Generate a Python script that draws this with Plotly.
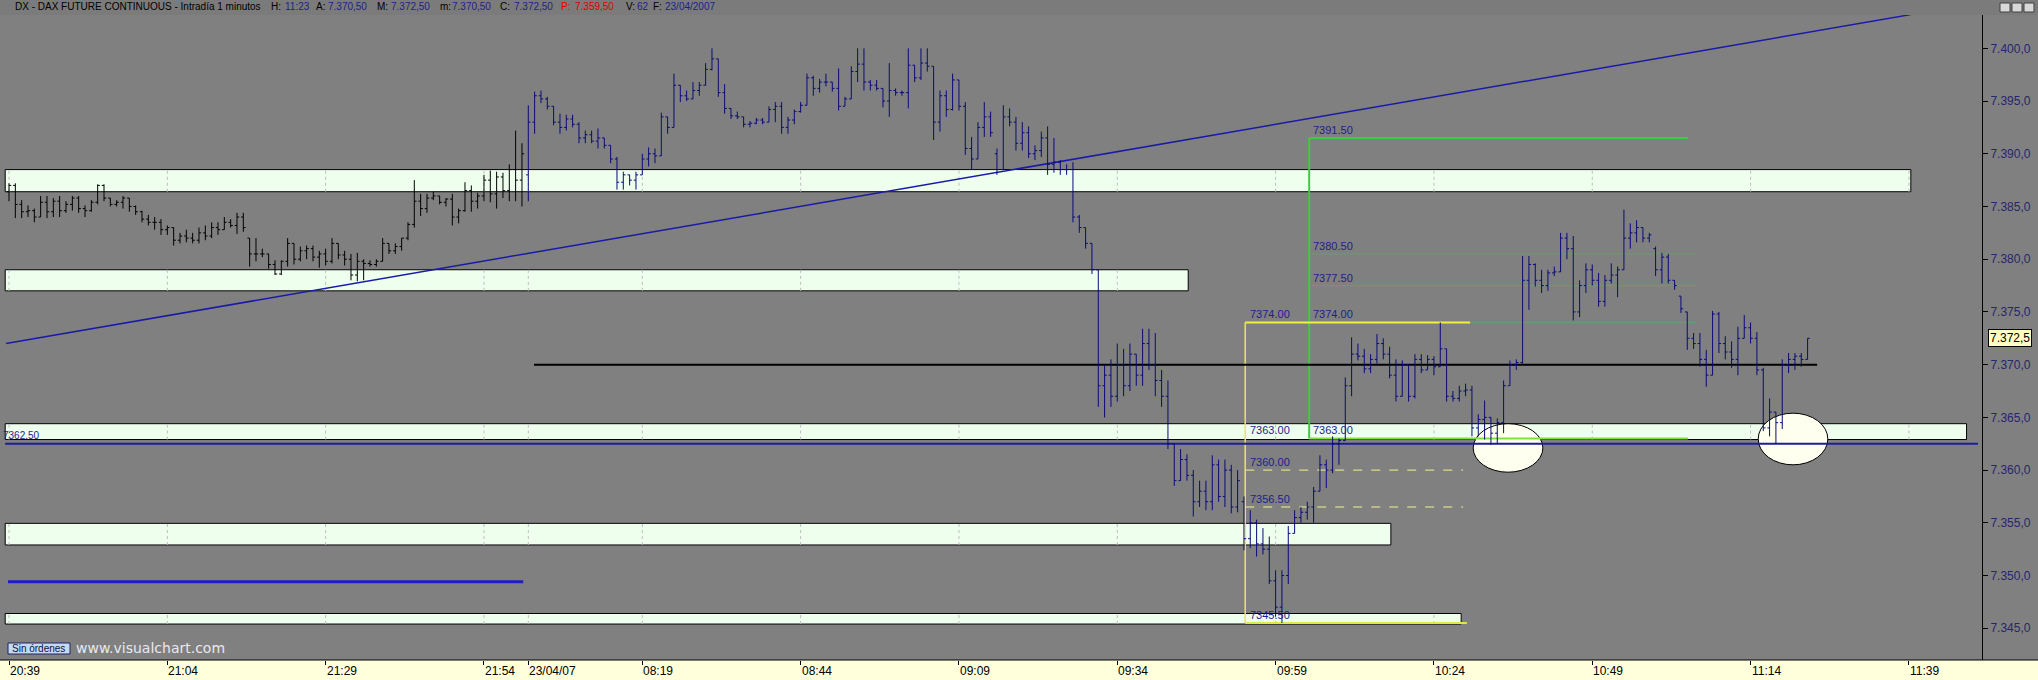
import plotly.graph_objects as go

# --- 1. Datos: barras de 1 minuto del DAX (índice 0 = 20:39, índice 82 = primera barra del 23/04) ---
# Sesión del 20/04 (20:39 - 22:00)
d1_open = [7386.4, 7387.0, 7385.2, 7384.5, 7384.6, 7384.0, 7385.4, 7384.5, 7385.5, 7384.6,
           7385.2, 7385.8, 7384.8, 7384.6, 7385.4, 7387.0, 7385.8, 7385.2, 7385.4, 7385.8,
           7385.0, 7384.5, 7383.8, 7383.5, 7383.5, 7382.8, 7383.0, 7381.8, 7382.2, 7382.0,
           7381.8, 7382.5, 7382.2, 7383.0, 7382.8, 7383.5, 7383.2, 7384.0, 7382.0, 7380.5,
           7380.5, 7380.5, 7379.5, 7378.6, 7379.8, 7381.5, 7380.0, 7380.8, 7381.0, 7380.2,
           7380.5, 7379.8, 7381.5, 7380.4, 7380.0, 7378.5, 7379.8, 7379.6, 7379.5, 7379.8,
           7381.5, 7380.8, 7381.2, 7382.0, 7383.3, 7385.5, 7384.8, 7385.8, 7386.0, 7385.4,
           7385.7, 7384.0, 7384.6, 7386.5, 7385.5, 7386.0, 7387.5, 7386.2, 7387.8, 7386.5,
           7388.5, 7387.5]
d1_high = [7387.2, 7387.2, 7385.6, 7385.1, 7384.8, 7386.0, 7386.0, 7385.8, 7386.0, 7385.5,
           7386.0, 7386.0, 7385.1, 7385.6, 7387.1, 7387.1, 7385.8, 7385.6, 7386.0, 7385.8,
           7385.1, 7384.6, 7384.2, 7384.0, 7383.8, 7383.2, 7383.0, 7382.5, 7382.8, 7382.5,
           7383.0, 7383.2, 7383.5, 7383.5, 7384.0, 7383.8, 7384.4, 7384.4, 7382.0, 7382.0,
           7381.0, 7380.5, 7379.9, 7379.9, 7382.0, 7381.5, 7381.2, 7381.3, 7381.3, 7380.8,
           7381.0, 7382.0, 7381.5, 7380.8, 7380.5, 7380.6, 7380.0, 7379.9, 7380.0, 7382.0,
           7381.5, 7381.5, 7382.0, 7383.5, 7387.5, 7386.2, 7386.2, 7386.4, 7386.0, 7385.8,
           7386.2, 7384.8, 7387.3, 7387.0, 7386.3, 7388.0, 7388.4, 7388.3, 7388.2, 7389.0,
           7392.2, 7391.0]
d1_low = [7385.5, 7383.9, 7383.9, 7384.0, 7383.5, 7384.0, 7383.9, 7384.0, 7384.0, 7384.4,
          7384.6, 7384.4, 7384.0, 7384.5, 7385.2, 7385.5, 7385.0, 7385.0, 7384.8, 7384.5,
          7384.2, 7383.5, 7383.2, 7382.8, 7382.3, 7382.3, 7381.3, 7381.5, 7381.6, 7381.5,
          7381.5, 7381.8, 7382.0, 7382.3, 7382.8, 7383.0, 7382.4, 7382.6, 7379.3, 7379.8,
          7380.2, 7379.1, 7378.5, 7378.5, 7379.3, 7379.5, 7379.8, 7380.0, 7379.8, 7379.2,
          7379.4, 7379.6, 7380.0, 7379.4, 7378.0, 7377.9, 7378.0, 7379.3, 7379.3, 7379.8,
          7380.5, 7380.5, 7380.8, 7381.8, 7383.0, 7384.1, 7384.4, 7385.6, 7385.2, 7385.0,
          7383.2, 7383.4, 7384.5, 7384.5, 7384.8, 7385.5, 7385.4, 7384.8, 7385.8, 7385.5,
          7385.5, 7385.0]
d1_close = [7387.0, 7385.2, 7384.5, 7384.6, 7384.0, 7385.4, 7384.5, 7385.5, 7384.6, 7385.2,
            7385.8, 7384.8, 7384.6, 7385.4, 7387.0, 7385.8, 7385.2, 7385.4, 7385.8, 7385.0,
            7384.5, 7383.8, 7383.5, 7383.5, 7382.8, 7383.0, 7381.8, 7382.2, 7382.0, 7381.8,
            7382.5, 7382.2, 7383.0, 7382.8, 7383.5, 7383.2, 7384.0, 7383.0, 7380.5, 7380.5,
            7380.5, 7379.5, 7378.6, 7379.8, 7381.5, 7380.0, 7380.8, 7381.0, 7380.2, 7380.5,
            7379.8, 7381.5, 7380.4, 7380.0, 7378.5, 7379.8, 7379.6, 7379.5, 7379.8, 7381.5,
            7380.8, 7381.2, 7382.0, 7383.3, 7385.5, 7384.8, 7385.8, 7386.0, 7385.4, 7385.7,
            7384.0, 7384.6, 7386.5, 7385.5, 7386.0, 7387.5, 7386.2, 7387.8, 7386.5, 7388.5,
            7387.5, 7390.0]

# Sesión del 23/04 (08:01 - 11:23)
d2_open = [7388.0, 7393.0, 7395.5, 7395.2, 7394.5, 7393.0, 7392.5, 7393.3, 7392.8, 7391.5,
           7391.8, 7391.2, 7391.5, 7390.8, 7389.5, 7387.3, 7388.0, 7387.5, 7388.0, 7389.5,
           7390.0, 7389.8, 7393.5, 7392.5, 7396.5, 7395.5, 7395.2, 7396.0, 7396.5, 7398.0,
           7399.0, 7395.8, 7394.3, 7393.6, 7393.5, 7392.8, 7392.9, 7393.2, 7393.0, 7394.2,
           7394.5, 7392.5, 7393.2, 7394.0, 7394.6, 7397.2, 7396.2, 7396.8, 7396.8, 7396.2,
           7394.5, 7395.2, 7397.8, 7398.5, 7396.8, 7396.5, 7396.2, 7395.0, 7396.0, 7395.8,
           7395.8, 7398.4, 7397.2, 7398.6, 7398.3, 7393.0, 7395.5, 7394.2, 7397.0, 7394.5,
           7390.5, 7389.5, 7392.5, 7393.5, 7390.0, 7388.5, 7393.5, 7393.0, 7391.0, 7392.0,
           7390.0, 7390.3, 7391.5, 7389.0, 7389.2, 7388.5, 7388.5, 7384.0, 7383.0, 7381.5,
           7379.0, 7368.0, 7369.0, 7367.0, 7370.0, 7368.0, 7371.0, 7369.0, 7372.0, 7370.0,
           7368.5, 7367.0, 7362.5, 7359.0, 7361.0, 7359.5, 7357.0, 7358.0, 7357.0, 7360.5,
           7357.5, 7360.0, 7356.5, 7357.0, 7353.5, 7355.0, 7353.0, 7352.5, 7349.5, 7347.0,
           7350.0, 7354.0, 7355.5, 7356.0, 7356.5, 7358.0, 7360.5, 7360.0, 7362.5, 7362.8,
           7368.0, 7371.0, 7370.8, 7369.6, 7370.5, 7372.0, 7371.0, 7369.0, 7367.0, 7370.0,
           7367.0, 7370.5, 7369.5, 7370.5, 7369.8, 7371.5, 7367.0, 7366.8, 7367.5, 7367.6,
           7364.0, 7364.8, 7365.0, 7363.5, 7364.5, 7368.0, 7370.0, 7370.2, 7378.0, 7379.5,
           7378.0, 7377.5, 7378.7, 7378.8, 7382.0, 7381.0, 7375.0, 7377.5, 7379.0, 7378.0,
           7376.0, 7378.0, 7378.5, 7379.0, 7382.0, 7382.5, 7383.0, 7382.0, 7381.0, 7379.0,
           7380.2, 7378.0, 7376.5, 7375.0, 7372.5, 7372.0, 7370.5, 7369.0, 7374.8, 7372.0,
           7371.2, 7370.5, 7372.5, 7373.5, 7372.5, 7369.5, 7364.0, 7365.5, 7364.5, 7370.0,
           7370.5, 7370.8, 7370.5]
d2_high = [7394.6, 7395.9, 7396.0, 7395.4, 7394.5, 7393.8, 7393.7, 7393.7, 7393.0, 7392.2,
           7392.2, 7392.4, 7391.5, 7390.8, 7389.7, 7388.3, 7388.0, 7388.3, 7390.0, 7390.6,
           7390.5, 7393.9, 7393.5, 7397.6, 7396.5, 7396.0, 7396.8, 7396.8, 7398.6, 7400.0,
           7399.0, 7396.6, 7394.3, 7394.0, 7393.5, 7393.1, 7393.4, 7393.4, 7394.5, 7394.9,
           7394.9, 7393.5, 7394.2, 7394.9, 7397.6, 7397.4, 7397.1, 7397.6, 7396.8, 7398.1,
           7395.4, 7398.3, 7400.0, 7400.0, 7397.0, 7397.0, 7396.2, 7398.6, 7396.2, 7396.0,
           7400.0, 7398.4, 7400.0, 7400.0, 7398.3, 7396.0, 7396.0, 7397.6, 7397.0, 7394.9,
           7391.6, 7393.0, 7394.9, 7394.0, 7390.5, 7394.6, 7394.3, 7393.5, 7393.0, 7392.6,
           7390.8, 7392.1, 7392.6, 7391.5, 7389.4, 7389.0, 7389.2, 7384.2, 7383.0, 7381.5,
           7379.0, 7370.0, 7370.5, 7372.0, 7371.5, 7372.0, 7371.0, 7373.4, 7373.4, 7373.0,
           7369.5, 7368.5, 7362.5, 7362.0, 7361.5, 7360.0, 7359.0, 7359.0, 7361.4, 7361.0,
           7361.0, 7360.5, 7360.0, 7357.5, 7356.2, 7355.3, 7354.5, 7353.7, 7350.5, 7350.5,
           7354.7, 7356.2, 7356.5, 7357.0, 7358.4, 7361.4, 7361.0, 7363.2, 7363.0, 7368.8,
           7372.6, 7372.0, 7371.5, 7371.0, 7372.9, 7372.5, 7371.7, 7370.5, 7370.4, 7370.0,
           7371.0, 7371.0, 7370.9, 7370.8, 7374.0, 7371.5, 7367.5, 7368.0, 7368.2, 7368.0,
           7365.3, 7366.6, 7365.0, 7364.9, 7368.5, 7370.4, 7370.5, 7380.3, 7380.3, 7379.6,
           7379.0, 7379.0, 7379.3, 7382.5, 7382.5, 7382.2, 7378.0, 7379.6, 7379.5, 7378.7,
           7378.5, 7379.6, 7379.3, 7384.7, 7383.4, 7383.7, 7383.0, 7382.5, 7381.2, 7380.6,
           7380.5, 7378.0, 7376.5, 7375.0, 7373.0, 7373.0, 7371.4, 7375.1, 7375.0, 7372.7,
           7372.2, 7373.6, 7374.7, 7374.0, 7373.1, 7369.7, 7366.8, 7365.5, 7370.5, 7371.1,
           7371.1, 7371.1, 7372.5]
d2_low = [7385.5, 7391.9, 7394.8, 7394.2, 7392.7, 7391.9, 7392.2, 7392.5, 7391.0, 7391.0,
          7391.0, 7390.5, 7390.5, 7389.1, 7386.6, 7386.6, 7387.0, 7386.6, 7388.0, 7388.8,
          7389.1, 7389.8, 7391.9, 7392.5, 7394.9, 7395.0, 7395.2, 7395.5, 7396.5, 7397.9,
          7395.4, 7393.8, 7393.3, 7393.3, 7392.5, 7392.5, 7392.8, 7392.8, 7393.0, 7393.0,
          7391.9, 7391.9, 7392.8, 7393.9, 7394.6, 7395.5, 7395.8, 7396.4, 7395.9, 7394.1,
          7394.5, 7395.2, 7396.8, 7396.0, 7396.0, 7396.0, 7394.4, 7393.5, 7395.5, 7395.5,
          7394.3, 7396.8, 7397.0, 7397.8, 7391.3, 7392.1, 7393.5, 7394.1, 7394.1, 7389.9,
          7388.5, 7389.5, 7391.6, 7391.6, 7388.0, 7388.5, 7392.6, 7390.3, 7390.3, 7389.6,
          7389.4, 7389.7, 7388.0, 7388.2, 7388.0, 7388.0, 7383.5, 7382.5, 7381.0, 7378.6,
          7366.0, 7365.0, 7366.0, 7366.5, 7367.0, 7367.5, 7368.0, 7368.0, 7369.5, 7367.0,
          7366.0, 7362.0, 7358.5, 7359.0, 7359.0, 7355.6, 7356.5, 7356.2, 7356.2, 7357.0,
          7356.5, 7355.9, 7356.0, 7352.4, 7352.6, 7351.8, 7352.0, 7349.2, 7346.1, 7345.5,
          7349.2, 7354.0, 7355.0, 7355.3, 7355.0, 7358.0, 7358.3, 7359.7, 7360.5, 7362.8,
          7367.0, 7370.4, 7369.2, 7369.2, 7370.1, 7370.5, 7368.7, 7366.5, 7367.0, 7366.5,
          7366.8, 7369.2, 7369.5, 7369.0, 7369.8, 7366.5, 7366.5, 7366.5, 7367.0, 7363.2,
          7363.2, 7362.9, 7362.4, 7362.5, 7363.5, 7368.0, 7369.5, 7370.1, 7375.2, 7377.4,
          7376.8, 7377.0, 7378.4, 7378.8, 7380.0, 7374.2, 7374.5, 7376.8, 7377.5, 7375.5,
          7375.5, 7377.7, 7376.4, 7379.0, 7381.0, 7381.6, 7381.6, 7381.6, 7378.4, 7377.7,
          7377.7, 7377.1, 7374.9, 7371.4, 7371.5, 7369.8, 7367.9, 7369.0, 7371.1, 7370.5,
          7369.7, 7369.0, 7372.5, 7372.0, 7369.0, 7363.7, 7363.2, 7362.5, 7363.9, 7369.2,
          7369.5, 7369.8, 7370.5]
d2_close = [7393.0, 7395.5, 7395.2, 7394.5, 7393.0, 7392.5, 7393.3, 7392.8, 7391.5, 7391.8,
            7391.2, 7391.5, 7390.8, 7389.5, 7387.3, 7388.0, 7387.5, 7388.0, 7389.5, 7390.0,
            7389.8, 7393.5, 7392.5, 7396.5, 7395.5, 7395.2, 7396.0, 7396.5, 7398.0, 7399.0,
            7395.8, 7394.3, 7393.6, 7393.5, 7392.8, 7392.9, 7393.2, 7393.0, 7394.2, 7394.5,
            7392.5, 7393.2, 7394.0, 7394.6, 7397.2, 7396.2, 7396.8, 7396.8, 7396.2, 7394.5,
            7395.2, 7397.8, 7398.5, 7396.8, 7396.5, 7396.2, 7395.0, 7396.0, 7395.8, 7395.8,
            7398.4, 7397.2, 7398.6, 7398.3, 7393.0, 7395.5, 7394.2, 7397.0, 7394.5, 7390.5,
            7389.5, 7392.5, 7393.5, 7392.0, 7388.5, 7393.5, 7393.0, 7391.0, 7392.0, 7390.0,
            7390.3, 7391.5, 7389.0, 7389.2, 7388.5, 7388.5, 7384.0, 7383.0, 7381.5, 7379.0,
            7368.0, 7369.0, 7367.0, 7370.0, 7368.0, 7371.0, 7369.0, 7372.0, 7370.0, 7368.5,
            7367.0, 7362.5, 7359.0, 7361.0, 7359.5, 7357.0, 7358.0, 7357.0, 7360.5, 7357.5,
            7360.0, 7356.5, 7359.0, 7353.5, 7355.0, 7353.0, 7352.5, 7349.5, 7347.0, 7350.0,
            7354.0, 7355.5, 7356.0, 7356.5, 7358.0, 7360.5, 7360.0, 7362.5, 7362.8, 7368.0,
            7371.0, 7370.8, 7369.6, 7370.5, 7372.0, 7371.0, 7369.0, 7367.0, 7370.0, 7367.0,
            7370.5, 7369.5, 7370.5, 7369.8, 7371.5, 7367.0, 7366.8, 7367.5, 7367.6, 7364.0,
            7364.8, 7365.0, 7363.5, 7364.5, 7368.0, 7370.0, 7370.2, 7378.0, 7379.5, 7378.0,
            7377.5, 7378.7, 7378.8, 7382.0, 7381.0, 7375.0, 7377.5, 7379.0, 7378.0, 7376.0,
            7378.0, 7378.5, 7379.0, 7382.0, 7382.5, 7383.0, 7382.0, 7382.3, 7379.0, 7380.2,
            7378.0, 7377.5, 7375.3, 7372.5, 7372.0, 7370.5, 7369.0, 7374.8, 7372.0, 7371.2,
            7370.5, 7372.5, 7373.5, 7372.5, 7369.5, 7364.0, 7365.5, 7364.5, 7370.0, 7370.5,
            7370.8, 7370.5, 7372.5]

# Etiquetas del eje de tiempo (posición = índice de barra)
tick_pos = [0, 25, 50, 75, 82, 100, 125, 150, 175, 200, 225, 250, 275, 300]
tick_text = ["20:39", "21:04", "21:29", "21:54", "23/04/07", "08:19", "08:44",
             "09:09", "09:34", "09:59", "10:24", "10:49", "11:14", "11:39"]

# Zonas de soporte / resistencia (precio bajo, precio alto, barra final)
zona_bajo = [7386.4, 7377.0, 7362.9, 7352.9, 7345.4]
zona_alto = [7388.5, 7379.0, 7364.4, 7354.95, 7346.4]
zona_fin = [300.3, 186.2, 309.1, 218.2, 229.3]

# Niveles de Fibonacci
fib_verde = [7391.5, 7380.5, 7377.5, 7374.0, 7363.0]
fib_amarillo = [7374.0, 7363.0, 7360.0, 7356.5, 7345.5]

# Otras líneas dibujadas
linea_azul = 7362.5
linea_azul_corta = 7349.4
linea_negra = 7370.0
tendencia = [(-0.47, 7372.0), (300.3, 7403.2)]
ultimo = 7372.5

# Cabecera: (posición px, texto, color)
cabecera = [
    (14, "DX - DAX FUTURE CONTINUOUS - Intradía 1 minutos", "#000000"),
    (270, "H:", "#000000"), (284, "11:23", "#1e1e8c"),
    (315, "A:", "#000000"), (327, "7.370,50", "#1e1e8c"),
    (376, "M:", "#000000"), (390, "7.372,50", "#1e1e8c"),
    (439, "m:", "#000000"), (451, "7.370,50", "#1e1e8c"),
    (499, "C:", "#000000"), (513, "7.372,50", "#1e1e8c"),
    (560, "P:", "#e00000"), (574, "7.359,50", "#e00000"),
    (625, "V:", "#000000"), (636, "62", "#1e1e8c"),
    (652, "F:", "#000000"), (664, "23/04/2007", "#1e1e8c"),
]

# --- 2. Figura ---
PLOT_W = 1982
PLOT_H = 645
fig = go.Figure()

fig.add_trace(go.Ohlc(
    x=list(range(len(d1_open))), open=d1_open, high=d1_high, low=d1_low, close=d1_close,
    increasing_line_color="#000000", decreasing_line_color="#000000",
    line_width=1, tickwidth=0.35, hoverinfo="skip", showlegend=False))
x2 = list(range(len(d1_open), len(d1_open) + len(d2_open)))
fig.add_trace(go.Ohlc(
    x=x2, open=d2_open, high=d2_high, low=d2_low, close=d2_close,
    increasing_line_color="#0a0a78", decreasing_line_color="#0a0a78",
    line_width=1, tickwidth=0.35, hoverinfo="skip", showlegend=False))

shapes = []
# zonas
for lo, hi, fin in zip(zona_bajo, zona_alto, zona_fin):
    shapes.append(dict(type="rect", x0=-0.6, x1=fin, y0=lo, y1=hi, layer="below",
                       fillcolor="#EEFFEE", line=dict(color="#000000", width=1)))
    for t in tick_pos:
        if -0.6 < t < fin:
            shapes.append(dict(type="line", x0=t, x1=t, y0=lo, y1=hi, layer="below",
                               line=dict(color="#BDBDBD", width=1, dash="dot")))
# elipses
shapes.append(dict(type="circle", x0=231.2, x1=242.2, y0=7359.8, y1=7364.4, layer="below",
                   fillcolor="#FFFFF0", line=dict(color="#000000", width=1)))
shapes.append(dict(type="circle", x0=276.2, x1=287.2, y0=7360.5, y1=7365.4, layer="below",
                   fillcolor="#FFFFF0", line=dict(color="#000000", width=1)))
# fibonacci verde
shapes.append(dict(type="line", x0=205.3, x1=205.3, y0=fib_verde[-1], y1=fib_verde[0], layer="below",
                   line=dict(color="#3ccc3c", width=2)))
shapes.append(dict(type="line", x0=205.3, x1=265.1, y0=fib_verde[0], y1=fib_verde[0], layer="below",
                   line=dict(color="#3ccc3c", width=2)))
for lv in fib_verde[1:4]:
    shapes.append(dict(type="line", x0=205.3, x1=266.5, y0=lv, y1=lv, layer="below",
                       line=dict(color="#6c9c6c", width=1)))
shapes.append(dict(type="line", x0=205.3, x1=265.1, y0=fib_verde[4], y1=fib_verde[4], layer="below",
                   line=dict(color="#7ee23c", width=2)))
# fibonacci amarillo
shapes.append(dict(type="line", x0=195.2, x1=195.2, y0=fib_amarillo[-1], y1=fib_amarillo[0], layer="below",
                   line=dict(color="#e8e850", width=1.5)))
shapes.append(dict(type="line", x0=195.2, x1=230.7, y0=fib_amarillo[0], y1=fib_amarillo[0], layer="below",
                   line=dict(color="#f0f040", width=2)))
for lv in fib_amarillo[2:4]:
    shapes.append(dict(type="line", x0=195.2, x1=229.6, y0=lv, y1=lv, layer="below",
                       line=dict(color="#f4f08c", width=1, dash="dash")))
shapes.append(dict(type="line", x0=195.2, x1=230.2, y0=fib_amarillo[4], y1=fib_amarillo[4], layer="below",
                   line=dict(color="#e6e640", width=2)))
# líneas horizontales y tendencia
shapes.append(dict(type="line", x0=-0.6, x1=310.9, y0=linea_azul, y1=linea_azul, layer="below",
                   line=dict(color="#1c1c9c", width=2)))
shapes.append(dict(type="line", x0=-0.16, x1=81.2, y0=linea_azul_corta, y1=linea_azul_corta, layer="below",
                   line=dict(color="#1e1ec8", width=3)))
shapes.append(dict(type="line", x0=82.9, x1=285.5, y0=linea_negra, y1=linea_negra, layer="below",
                   line=dict(color="#000000", width=2)))
shapes.append(dict(type="line", x0=tendencia[0][0], y0=tendencia[0][1], x1=tendencia[1][0], y1=tendencia[1][1],
                   layer="below", line=dict(color="#1a1aa8", width=1.5)))

# cabecera y banda del eje de tiempo (coordenadas de papel)
W_FULL = 2038 / PLOT_W
shapes.append(dict(type="rect", xref="paper", yref="paper", x0=0, x1=W_FULL, y0=1, y1=1 + 15 / PLOT_H,
                   fillcolor="#7b7b7b", line=dict(width=0), layer="below"))
shapes.append(dict(type="rect", xref="paper", yref="paper", x0=0, x1=W_FULL, y0=-20 / PLOT_H, y1=0,
                   fillcolor="#FFFFDC", line=dict(width=0), layer="below"))
shapes.append(dict(type="line", xref="paper", yref="paper", x0=0, x1=W_FULL, y0=0, y1=0,
                   line=dict(color="#000000", width=1)))
# botón "Sin órdenes"
shapes.append(dict(type="rect", xref="paper", yref="paper", x0=8 / PLOT_W, x1=70 / PLOT_W,
                   y0=6 / PLOT_H, y1=17 / PLOT_H, fillcolor="#C4DAF0",
                   line=dict(color="#202060", width=1)))
# botones de ventana
for k in range(3):
    shapes.append(dict(type="rect", xref="paper", yref="paper",
                       x0=(2000 + k * 12) / PLOT_W, x1=(2010 + k * 12) / PLOT_W,
                       y0=1 + 3 / PLOT_H, y1=1 + 12 / PLOT_H, fillcolor="#d8d8d8",
                       line=dict(color="#404040", width=1)))

ann = []
lbl_font = dict(family="Arial", size=11, color="#1e1e8c")
for lv in fib_verde:
    ann.append(dict(x=205.6, y=lv, text=f"{lv:.2f}", showarrow=False, xanchor="left",
                    yanchor="bottom", yshift=0, font=lbl_font))
for lv in fib_amarillo:
    ann.append(dict(x=195.6, y=lv, text=f"{lv:.2f}", showarrow=False, xanchor="left",
                    yanchor="bottom", yshift=0, font=lbl_font))
ann.append(dict(x=-1.3, y=linea_azul, text=f"{linea_azul:.2f}", showarrow=False, xanchor="left",
                yanchor="bottom", yshift=1, font=dict(family="Arial", size=10, color="#1e1e8c")))
# etiquetas de tiempo (alineadas a la izquierda de cada marca)
for p, t in zip(tick_pos, tick_text):
    ann.append(dict(x=p, xref="x", y=-11 / PLOT_H, yref="paper", text=t, showarrow=False,
                    xanchor="left", yanchor="middle", xshift=-1,
                    font=dict(family="Arial", size=12, color="#000000")))
# precio actual
ann.append(dict(x=1 + 6 / PLOT_W, xref="paper", y=ultimo, yref="y", text="7.372,5", showarrow=False,
                xanchor="left", yanchor="middle", bgcolor="#FFFFC4", bordercolor="#000000",
                borderwidth=1, borderpad=1, font=dict(family="Arial", size=12, color="#000000")))
# cabecera
for px, txt, col in cabecera:
    ann.append(dict(x=px / PLOT_W, xref="paper", y=1 + 8 / PLOT_H, yref="paper", text=txt,
                    showarrow=False, xanchor="left", yanchor="middle", borderpad=0,
                    font=dict(family="Arial", size=10, color=col)))
ann.append(dict(x=10 / PLOT_W, xref="paper", y=11.5 / PLOT_H, yref="paper", text="Sin órdenes",
                showarrow=False, xanchor="left", yanchor="middle",
                font=dict(family="Arial", size=10, color="#101040")))
ann.append(dict(x=74 / PLOT_W, xref="paper", y=12 / PLOT_H, yref="paper", text="www.visualchart.com",
                showarrow=False, xanchor="left", yanchor="middle",
                font=dict(family="DejaVu Sans", size=14, color="#E8E8F0")))

# --- 3. Layout ---
fig.update_layout(
    width=2038, height=680,
    margin=dict(l=0, r=56, t=15, b=20, autoexpand=False),
    paper_bgcolor="#808080", plot_bgcolor="#808080",
    separators=",.",
    shapes=shapes, annotations=ann,
    xaxis=dict(range=[-1.421, 311.54], rangeslider=dict(visible=False), showgrid=False,
               zeroline=False, tickvals=tick_pos, ticktext=[""] * len(tick_pos),
               ticks="outside", ticklen=4, tickcolor="#000000", showline=False),
    yaxis=dict(range=[7341.99, 7403.16], side="right", showgrid=False, zeroline=False,
               tick0=7345, dtick=5, tickformat=",.1f", ticks="outside", ticklen=5,
               tickcolor="#000000", showline=True, linecolor="#000000", linewidth=1,
               tickfont=dict(family="Arial", size=12, color="#26266e")),
)

fig.write_html("out.html", config={"displayModeBar": False},
               post_script="document.body.style.margin='0';document.body.style.overflow='hidden';")
